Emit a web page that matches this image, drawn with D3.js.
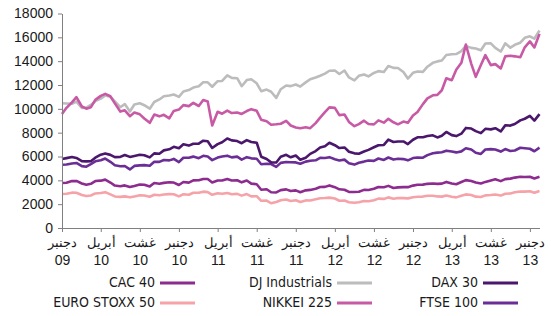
<!DOCTYPE html>
<html>
<head>
<meta charset="utf-8">
<script src="https://cdn.jsdelivr.net/npm/d3@7"></script>
<style>
  body { margin: 0; background: #fff; }
  svg { display: block; font-family: "DejaVu Sans Condensed", "DejaVu Sans", "Liberation Sans", sans-serif; }
</style>
</head>
<body>
<svg id="chart" width="551" height="316"></svg>
<script>
// values on the 1st and 15th of each month, Dec 2009 -> Dec 2013, then 31 Dec 2013
const dj = [
  10472,10452, 10428,10610, 10067,10099, 10325,10642, 10857,11123, 11009,10620, 10137,10400, 9774,10360, 10466,10303, 10015,10572, 10788,11062, 11118,11201, 11006,11457,
  11578,11787, 11892,12226, 12226,11855, 12320,12342, 12811,12595, 12570,11897, 12414,12480, 12143,11482, 11614,11433, 10913,11644, 11955,11905, 12046,11868,
  12218,12482, 12633,12780, 12952,13194, 13212,12921, 13214,12632, 12393,12767, 12880,12727, 13009,13164, 13091,13593, 13437,13424, 13096,12542, 13026,13135,
  13104,13534, 13861,13981, 14054,14514, 14579,14599, 14840,15275, 15116,15070, 14910,15484, 15500,15112, 14810,15495, 15130,15373, 15546,15962, 16086,15885,
  16577];
const nikkei = [
  9572,10083, 10546,10982, 10198,10013, 10126,10751, 11090,11256, 11057,10462, 9769,9879, 9383,9685, 9537,9196, 8824,9516, 9369,9500, 9202,9827, 9937,10309,
  10229,10499, 10238,10746, 10624,8605, 9755,9592, 9850,9648, 9694,9574, 9816,9974, 9833,9086, 8955,8668, 8700,8748, 8988,8604, 8435,8377,
  8455,8378, 8803,9260, 9723,10123, 10084,9470, 9521,8900, 8543,8721, 9007,8725, 8695,9030, 8840,9160, 8870,8701, 8928,8830, 9446,9737,
  10395,10880, 11139,11173, 11559,12560, 12398,13275, 13861,15400, 13775,12686, 13677,14506, 13668,13752, 13389,14404, 14456,14405, 14328,15165, 15662,15152,
  16291];
const dax = [
  5787,5863, 5957,5876, 5608,5592, 5598,5903, 6154,6251, 6136,5947, 5964,6131, 5966,6046, 6148,6110, 5925,6261, 6229,6512, 6601,6812, 6688,7025,
  6914,7075, 7077,7325, 7273,6715, 7041,7199, 7514,7350, 7294,7115, 7376,7220, 7159,5981, 5785,5508, 5502,5985, 6141,5934, 6089,5730,
  5898,6220, 6458,6752, 6856,7157, 6947,6710, 6761,6402, 6264,6229, 6416,6557, 6772,6946, 6970,7412, 7216,7262, 7260,7043, 7405,7614,
  7612,7715, 7776,7600, 7741,8058, 7795,7712, 7914,8398, 8348,8128, 7959,8323, 8276,8372, 8103,8613, 8594,8724, 9033,9168, 9405,9006,
  9552];
const ftse = [
  5313,5325, 5413,5455, 5189,5142, 5355,5594, 5680,5826, 5553,5263, 5188,5202, 4917,5211, 5258,5275, 5225,5555, 5549,5704, 5675,5797, 5528,5891,
  5900,5990, 5863,6060, 5994,5695, 5909,5996, 6070,5925, 5990,5742, 5946,5843, 5815,5351, 5394,5368, 5128,5466, 5544,5519, 5505,5388,
  5572,5637, 5682,5892, 5872,5945, 5768,5666, 5738,5437, 5321,5479, 5571,5667, 5635,5831, 5711,5915, 5742,5805, 5783,5677, 5867,5921,
  5898,6117, 6276,6328, 6361,6489, 6412,6344, 6430,6693, 6583,6309, 6215,6586, 6621,6587, 6413,6623, 6462,6507, 6731,6693, 6651,6440,
  6749];
const cac = [
  3775,3796, 3936,3949, 3739,3627, 3708,3940, 3974,4060, 3816,3561, 3508,3576, 3443,3528, 3643,3634, 3490,3771, 3715,3788, 3833,3813, 3610,3863,
  3805,3994, 4005,4117, 4110,3825, 3989,3984, 4107,3983, 4006,3831, 3982,3725, 3672,3211, 3256,2999, 2982,3180, 3242,3109, 3154,3000,
  3160,3196, 3298,3435, 3452,3573, 3424,3247, 3213,3035, 3017,3041, 3197,3193, 3292,3440, 3414,3535, 3355,3409, 3429,3429, 3557,3626,
  3641,3706, 3733,3700, 3723,3867, 3731,3674, 3857,4016, 3949,3816, 3739,3869, 3993,4083, 3934,4100, 4143,4230, 4299,4282, 4296,4152,
  4296];
const euro = [
  2855,2873, 2965,2957, 2776,2690, 2728,2900, 2931,3008, 2817,2650, 2610,2653, 2573,2650, 2742,2725, 2622,2786, 2748,2810, 2844,2826, 2650,2830,
  2793,2958, 2954,3050, 3013,2786, 2911,2879, 2937,2838, 2862,2717, 2849,2658, 2670,2281, 2302,2077, 2180,2330, 2385,2262, 2330,2187,
  2317,2310, 2416,2492, 2512,2548, 2477,2290, 2306,2155, 2118,2165, 2264,2244, 2325,2463, 2440,2570, 2454,2519, 2503,2485, 2575,2622,
  2636,2710, 2703,2650, 2633,2730, 2624,2570, 2712,2820, 2769,2630, 2603,2740, 2768,2815, 2721,2880, 2893,2994, 3068,3055, 3086,2960,
  3109];

const yTicks = [0, 2000, 4000, 6000, 8000, 10000, 12000, 14000, 16000, 18000];
const monthNames = {11: 'دجنبر', 3: 'أبريل', 7: 'غشت'};

const series = [
  {name: 'CAC 40', values: cac, color: '#8d2b8f'},
  {name: 'DJ Industrials', values: dj, color: '#bcbcbc'},
  {name: 'DAX 30', values: dax, color: '#4a176d'},
  {name: 'EURO STOXX 50', values: euro, color: '#f5a3a9'},
  {name: 'NIKKEI 225', values: nikkei, color: '#c85aa5'},
  {name: 'FTSE 100', values: ftse, color: '#6b2e96'}
];
const drawOrder = ['DJ Industrials', 'NIKKEI 225', 'EURO STOXX 50', 'CAC 40', 'FTSE 100', 'DAX 30'];

const dates = d3.timeMonth.range(new Date(2009, 11, 1), new Date(2014, 0, 1))
  .flatMap(m => [m, new Date(m.getFullYear(), m.getMonth(), 15)])
  .concat([new Date(2013, 11, 31)]);

const svg = d3.select('#chart');

const x = d3.scaleTime()
  .domain([new Date(2009, 11, 1), new Date(2013, 11, 31)])
  .range([62, 539.5]);
const y = d3.scaleLinear().domain([0, 18000]).range([228, 13.5]);

const line = d3.line()
  .x((d, i) => x(dates[i]))
  .y(d => y(d));

svg.append('g')
  .selectAll('path')
  .data(drawOrder.map(n => series.find(s => s.name === n)))
  .enter()
  .append('path')
  .attr('d', d => line(d.values))
  .attr('fill', 'none')
  .attr('stroke', d => d.color)
  .attr('stroke-width', 2.6)
  .attr('stroke-linejoin', 'round');

// y axis
const yAxis = svg.append('g')
  .attr('transform', 'translate(62,0)')
  .call(d3.axisLeft(y).tickValues(yTicks).tickFormat(d3.format('d')).tickSize(4).tickSizeOuter(0).tickPadding(5));
yAxis.selectAll('path, line').attr('stroke', '#808080');
yAxis.selectAll('text').attr('font-size', 14).attr('fill', '#1a1a1a').attr('font-family', null);

// x axis
const tickDates = d3.timeMonth.range(new Date(2009, 11, 1), new Date(2014, 0, 1), 4);
const xAxis = svg.append('g')
  .attr('transform', 'translate(0,228)')
  .call(d3.axisBottom(x).tickValues(tickDates).tickFormat('').tickSize(4).tickSizeOuter(0));
xAxis.selectAll('path, line').attr('stroke', '#808080');
xAxis.selectAll('.tick text').remove();
const lbl = xAxis.selectAll('.tick').append('text')
  .attr('text-anchor', 'middle')
  .attr('fill', '#1a1a1a');
lbl.append('tspan').attr('x', 0).attr('y', 19).attr('font-size', 13)
  .text(d => monthNames[d.getMonth()]);
lbl.append('tspan').attr('x', 0).attr('y', 37).attr('font-size', 14)
  .text(d => d3.timeFormat('%y')(d));

// legend
const colEnd = [155, 332, 478];
const legend = svg.append('g').selectAll('g')
  .data(series)
  .enter()
  .append('g')
  .attr('transform', (d, i) => `translate(${colEnd[i % 3]},${283 + Math.floor(i / 3) * 20})`);
legend.append('text')
  .attr('text-anchor', 'end')
  .attr('y', 4)
  .attr('font-size', 14)
  .attr('fill', '#1a1a1a')
  .text(d => d.name);
legend.append('line')
  .attr('x1', 5).attr('x2', 40)
  .attr('stroke', d => d.color)
  .attr('stroke-width', 3);
</script>
</body>
</html>
